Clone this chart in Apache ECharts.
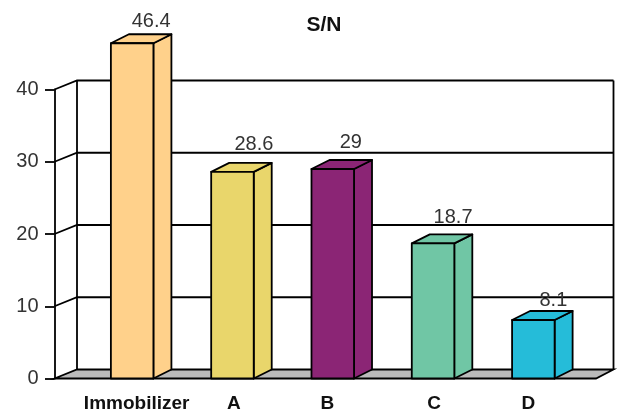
<!DOCTYPE html>
<html>
<head>
<meta charset="utf-8">
<title>S/N</title>
<script src="https://cdn.jsdelivr.net/npm/echarts@6/dist/echarts.min.js"></script>
<style>
html, body { margin: 0; padding: 0; background: #fff; }
#chart { width: 620px; height: 419px; }
</style>
</head>
<body>
<div id="chart"></div>
<script>
// data
var categories = ['Immobilizer', 'A', 'B', 'C', 'D'];
var snValues = [46.4, 28.6, 29, 18.7, 8.1];
var yTicks = [0, 10, 20, 30, 40];

var barColors = ['#FFD18B', '#E9D66B', '#8B2575', '#70C6A5', '#25BCD9'];
var FONT = '"Liberation Sans", Arial, sans-serif';
var LINE_W = 1.8;

// depth of the fake 3d box
var DX = 18, DY = 9;
// back wall sits a bit further than the bars
var WALL_DX = 22.5;
// value labels do not sit at the same spot on every bar in the original
var labelShiftX = [19, 21.5, 18, 20, 20];
var labelGap = [2.5, 8, 7, 7, 0.5];

function renderBar(params, api) {
	var i = api.value(0);
	var top = api.coord([i, api.value(1)]);
	var base = api.coord([i, 0]);
	var w = api.size([1, 0])[0] * 0.424;
	var l = top[0] - w / 2, r = top[0] + w / 2;
	var y0 = top[1], y1 = base[1];
	var style = { fill: barColors[i], stroke: '#000', lineWidth: LINE_W, lineJoin: 'round' };
	return {
		type: 'group',
		children: [
			{ type: 'polygon', shape: { points: [[r, y0], [r + DX, y0 - DY], [r + DX, y1 - DY], [r, y1]] }, style: style },
			{ type: 'polygon', shape: { points: [[l, y0], [l + DX, y0 - DY], [r + DX, y0 - DY], [r, y0]] }, style: style },
			{ type: 'rect', shape: { x: l, y: y0, width: w, height: y1 - y0 }, style: style },
			{
				type: 'text',
				z2: 10,
				style: {
					x: top[0] + labelShiftX[i],
					y: y0 - DY - labelGap[i],
					text: String(api.value(1)),
					fill: '#333',
					font: '20px ' + FONT,
					align: 'center',
					verticalAlign: 'bottom'
				}
			}
		]
	};
}

// grid line on the back wall with its little diagonal back to the axis
function renderWallLine(params, api) {
	var cs = params.coordSys;
	var y = api.coord([0, api.value(1)])[1];
	var frontX = cs.x - 27.5;
	var backX = frontX + WALL_DX;
	var backR = cs.x + cs.width + 30;
	return {
		type: 'polyline',
		shape: { points: [[frontX, y], [backX, y - DY], [backR, y - DY]] },
		style: { fill: 'none', stroke: '#000', lineWidth: LINE_W }
	};
}

function renderWall(params, api) {
	var cs = params.coordSys;
	var yBase = api.coord([0, yTicks[0]])[1];
	var yTop = api.coord([0, yTicks[yTicks.length - 1]])[1];
	var frontL = cs.x - 27.5, frontR = cs.x + cs.width + 12.5;
	var backL = frontL + WALL_DX, backR = cs.x + cs.width + 30;
	var line = { fill: 'none', stroke: '#000', lineWidth: LINE_W };
	return {
		type: 'group',
		children: [
			{ type: 'polygon', shape: { points: [[frontL, yBase], [frontR, yBase], [backR, yBase - DY], [backL, yBase - DY]] }, style: { fill: '#BBBBBB', stroke: '#000', lineWidth: LINE_W } },
			{ type: 'line', shape: { x1: backL, y1: yBase - DY, x2: backL, y2: yTop - DY }, style: line },
			{ type: 'line', shape: { x1: backR, y1: yBase - DY, x2: backR, y2: yTop - DY }, style: line }
		]
	};
}

var chart = echarts.init(document.getElementById('chart'));
var nameStyle = { color: '#111', fontSize: 19, fontWeight: 'bold' };
var option = {
	animation: false,
	textStyle: { fontFamily: FONT },
	title: {
		text: 'S/N',
		left: 319,
		top: 10,
		textAlign: 'center',
		textStyle: { color: '#111', fontSize: 21, fontWeight: 'bold', fontFamily: FONT }
	},
	grid: { left: 82, width: 501.5, top: 89.5, height: 289 },
	xAxis: {
		type: 'category',
		data: categories,
		axisLine: { show: false },
		axisTick: { show: false },
		axisLabel: {
			interval: 0,
			margin: 16,
			// padding nudges the names to where they sit in the original
			formatter: function (v, i) { return '{n' + i + '|' + v + '}'; },
			rich: {
				n0: Object.assign({ padding: [0, 0, 0, 9] }, nameStyle),
				n1: Object.assign({ padding: [0, 0, 0, 3] }, nameStyle),
				n2: Object.assign({ padding: [0, 11, 0, 0] }, nameStyle),
				n3: Object.assign({ padding: [0, 0, 0, 2] }, nameStyle),
				n4: Object.assign({ padding: [0, 10, 0, 0] }, nameStyle)
			}
		}
	},
	yAxis: {
		type: 'value',
		min: 0,
		max: 40,
		interval: 10,
		offset: 27.5,
		axisLine: { show: true, lineStyle: { color: '#000', width: LINE_W } },
		axisTick: { show: true, length: 9.5, lineStyle: { color: '#000', width: LINE_W } },
		axisLabel: { margin: 16, color: '#333', fontSize: 20 },
		splitLine: { show: false }
	},
	series: [{
		type: 'custom',
		name: 'wall',
		z: 1,
		renderItem: renderWall,
		data: [[0, 0]],
		silent: true
	}, {
		type: 'custom',
		name: 'grid lines',
		z: 2,
		renderItem: renderWallLine,
		data: yTicks.slice(1).map(function (t) { return [0, t]; }),
		silent: true
	}, {
		type: 'custom',
		name: 'S/N',
		z: 3,
		renderItem: renderBar,
		data: snValues.map(function (v, i) { return [i, v]; }),
		encode: { x: 0, y: 1 }
	}]
};
chart.setOption(option);
</script>
</body>
</html>
